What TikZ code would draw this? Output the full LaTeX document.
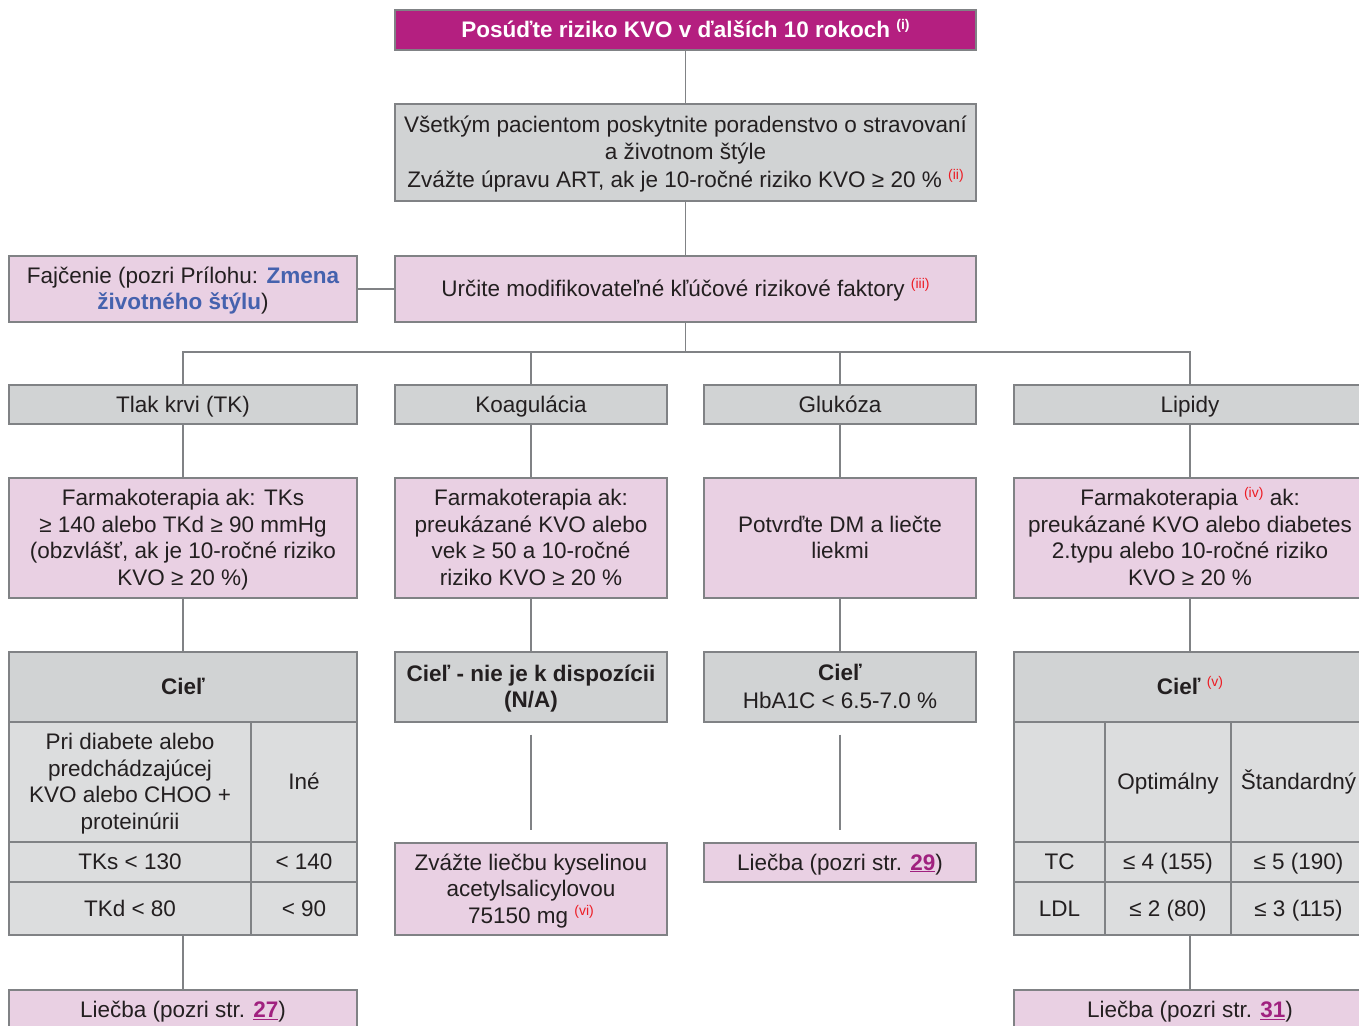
\documentclass[tikz,border=0pt]{standalone}
\usepackage{fontspec}
\setmainfont{Liberation Sans}
\usepackage{tikz}
\usetikzlibrary{positioning,calc}
\definecolor{kvomagenta}{RGB}{180,31,128}
\definecolor{kvopink}{RGB}{233,208,227}
\definecolor{kvogray}{RGB}{209,211,212}
\definecolor{kvolight}{RGB}{220,221,222}
\definecolor{kvoline}{RGB}{128,130,133}
\definecolor{kvoblue}{RGB}{69,98,174}
\definecolor{kvolink}{RGB}{160,33,127}
\definecolor{kvored}{RGB}{237,28,36}
\definecolor{kvotext}{RGB}{35,31,32}
\newcommand{\mainfs}{\fontsize{22.5}{26.5}\selectfont}
\newcommand{\topstrut}{\rule{0pt}{20.5pt}}
\newcommand{\botstrut}{\rule[-5.5pt]{0pt}{5.5pt}}
\newcommand{\fnote}[2][kvored]{\ \raisebox{8pt}{\fontsize{14}{14}\selectfont\color{#1}(#2)}}
\newcommand{\pglink}[1]{\textcolor{kvolink}{\underline{\textbf{#1}}}}

\begin{document}
\begin{tikzpicture}[x=1pt,y=-1pt,
  box/.style={draw=kvoline, line width=1.2pt, align=center, inner sep=0pt, text=kvotext, font=\mainfs,
    execute at begin node=\topstrut, execute at end node=\botstrut},
  pinkbox/.style={box, fill=kvopink},
  graybox/.style={box, fill=kvogray},
  cellbox/.style={box, fill=kvolight},
  boxsize/.style 2 args={minimum width=#1pt, minimum height=#2pt},
  link/.style={draw=kvoline, line width=1.2pt}]
  \useasboundingbox (0,0) rectangle (1359,1025);
  \clip (0,0) rectangle (1359,1025);
  % top of the chart
  \node[box, fill=kvomagenta, text=white, font=\mainfs\bfseries, boxsize={581}{40}] (assess) at (685.5,30)
    {Posúďte riziko KVO v ďalších 10 rokoch\fnote[white]{i}};
  \node[graybox, boxsize={581}{97}] (counsel) at (685.5,152.5)
    {\topstrut Všetkým pacientom poskytnite poradenstvo o stravovaní\\ a životnom štýle\\[1.5pt]
     Zvážte úpravu ART, ak je 10-ročné riziko KVO ≥ 20 \%\fnote{ii}\botstrut};
  \node[pinkbox, boxsize={581}{66}] (riskf) at (685.5,289)
    {Určite modifikovateľné kľúčové rizikové faktory\fnote{iii}};
  \node[pinkbox, boxsize={348}{66}] (smoke) at (183,289)
    {\topstrut Fajčenie (pozri Prílohu: {\color{kvoblue}\bfseries Zmena}\\ {\color{kvoblue}\bfseries životného štýlu})\botstrut};
  % four risk factors
  \node[graybox, boxsize={348}{39}] (tk) at (183,404.5) {Tlak krvi (TK)};
  \node[graybox, boxsize={272}{39}] (koag) at (531,404.5) {Koagulácia};
  \node[graybox, boxsize={272}{39}] (gluk) at (840,404.5) {Glukóza};
  \node[graybox, boxsize={352}{39}] (lip) at (1190,404.5) {Lipidy};
  % when to treat
  \node[pinkbox, boxsize={348}{120}] (tkfarm) at (183,538)
    {\topstrut Farmakoterapia ak: TKs\\ ≥ 140 alebo TKd ≥ 90 mmHg\\ (obzvlášť, ak je 10-ročné riziko\\ KVO ≥ 20 \%)\botstrut};
  \node[pinkbox, boxsize={272}{120}] (koagfarm) at (531,538)
    {\topstrut Farmakoterapia ak:\\ preukázané KVO alebo\\ vek ≥ 50 a 10-ročné\\ riziko KVO ≥ 20 \%\botstrut};
  \node[pinkbox, boxsize={272}{120}] (glukfarm) at (840,538)
    {\topstrut Potvrďte DM a liečte\\ liekmi\botstrut};
  \node[pinkbox, boxsize={352}{120}] (lipfarm) at (1190,538)
    {\topstrut Farmakoterapia\fnote{iv} ak:\\ preukázané KVO alebo diabetes\\ 2.typu alebo 10-ročné riziko\\ KVO ≥ 20 \%\botstrut};
  % targets
  \node[graybox, boxsize={348}{70}] (tkgoal) at (183,687) {\textbf{Cieľ}};
  \node[cellbox, boxsize={242}{120}] (tkdiab) at (130,782)
    {\topstrut Pri diabete alebo\\ predchádzajúcej\\ KVO alebo CHOO +\\ proteinúrii\botstrut};
  \node[cellbox, boxsize={106}{120}] (tkother) at (304,782) {Iné};
  \node[cellbox, boxsize={242}{40}] (tksys) at (130,862) {TKs < 130};
  \node[cellbox, boxsize={106}{40}] (tksysb) at (304,862) {< 140};
  \node[cellbox, boxsize={242}{53}] (tkdias) at (130,908.5) {TKd < 80};
  \node[cellbox, boxsize={106}{53}] (tkdiasb) at (304,908.5) {< 90};
  \node[graybox, boxsize={272}{70}] (koaggoal) at (531,687)
    {\topstrut\textbf{Cieľ - nie je k dispozícii}\\ \textbf{(N/A)}\botstrut};
  \node[graybox, boxsize={272}{70}] (glukgoal) at (840,687)
    {\topstrut\textbf{Cieľ}\\[2pt] HbA1C < 6.5-7.0 \%\botstrut};
  \node[graybox, boxsize={352}{70}] (lipgoal) at (1190,687) {\textbf{Cieľ}\fnote{v}};
  \node[cellbox, boxsize={91}{120}] (lipnone) at (1059.5,782) {};
  \node[cellbox, boxsize={126}{120}] (lipopt) at (1168,782) {Optimálny};
  \node[cellbox, boxsize={135}{120}] (lipstd) at (1298.5,782) {Štandardný};
  \node[cellbox, boxsize={91}{40}] (liptc) at (1059.5,862) {TC};
  \node[cellbox, boxsize={126}{40}] (liptca) at (1168,862) {≤ 4 (155)};
  \node[cellbox, boxsize={135}{40}] (liptcb) at (1298.5,862) {≤ 5 (190)};
  \node[cellbox, boxsize={91}{53}] (lipldl) at (1059.5,908.5) {LDL};
  \node[cellbox, boxsize={126}{53}] (lipldla) at (1168,908.5) {≤ 2 (80)};
  \node[cellbox, boxsize={135}{53}] (lipldlb) at (1298.5,908.5) {≤ 3 (115)};
  % treatment
  \node[pinkbox, boxsize={272}{92}] (koagtreat) at (531,889)
    {\topstrut Zvážte liečbu kyselinou\\ acetylsalicylovou\\ 75150 mg\fnote{vi}\botstrut};
  \node[pinkbox, boxsize={272}{39}] (gluktreat) at (840,862.5) {Liečba (pozri str. \pglink{29})};
  \node[pinkbox, boxsize={348}{40}] (tktreat) at (183,1010) {Liečba (pozri str. \pglink{27})};
  \node[pinkbox, boxsize={352}{40}] (liptreat) at (1190,1010) {Liečba (pozri str. \pglink{31})};
  % connectors
  \coordinate (bus) at (687,352);
  \draw[link] (assess) -- (counsel);
  \draw[link] (counsel) -- (riskf);
  \draw[link] (smoke) -- (riskf);
  \draw[link] (riskf.south) -- (riskf.south |- bus);
  \draw[link] (tk.north) -- (tk.north |- bus) -- (lip.north |- bus) -- (lip.north);
  \draw[link] (koag.north) -- (koag.north |- bus);
  \draw[link] (gluk.north) -- (gluk.north |- bus);
  \draw[link] (tk) -- (tkfarm);
  \draw[link] (tkfarm) -- (tkgoal);
  \draw[link] (tktreat.north) -- (tktreat.north |- tkdias.south);
  \draw[link] (koag) -- (koagfarm);
  \draw[link] (koagfarm) -- (koaggoal);
  \draw[link, shorten <=12pt, shorten >=12pt] (koaggoal) -- (koagtreat);
  \draw[link] (gluk) -- (glukfarm);
  \draw[link] (glukfarm) -- (glukgoal);
  \draw[link, shorten <=12pt, shorten >=12pt] (glukgoal) -- (gluktreat);
  \draw[link] (lip) -- (lipfarm);
  \draw[link] (lipfarm) -- (lipgoal);
  \draw[link] (liptreat.north) -- (liptreat.north |- lipldl.south);
\end{tikzpicture}
\end{document}
